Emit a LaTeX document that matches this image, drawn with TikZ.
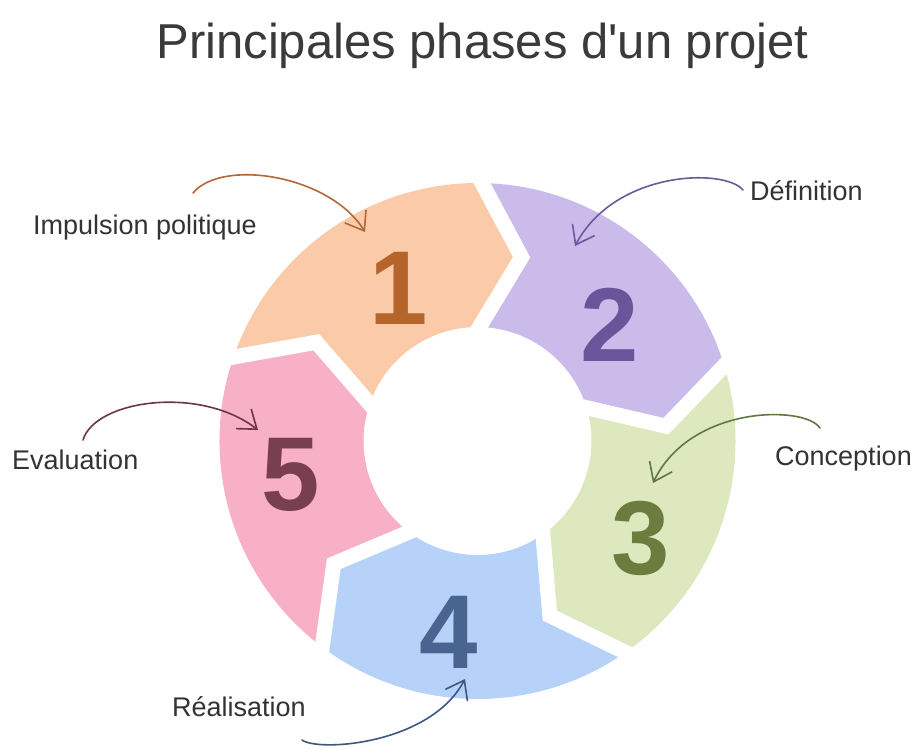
\documentclass[tikz,border=0pt]{standalone}
\usepackage{fontspec}
\setmainfont{Liberation Sans}
\usetikzlibrary{arrows.meta,calc}
\definecolor{fillA}{HTML}{FBCBA9}
\definecolor{fillB}{HTML}{CBBBEA}
\definecolor{fillC}{HTML}{DEE8BE}
\definecolor{fillD}{HTML}{B6D2F8}
\definecolor{fillE}{HTML}{F7B0C6}
\definecolor{numA}{HTML}{B5652B}
\definecolor{numB}{HTML}{6B559A}
\definecolor{numC}{HTML}{6B7D3E}
\definecolor{numD}{HTML}{48658F}
\definecolor{numE}{HTML}{7A3E51}
\definecolor{arrA}{HTML}{B0683A}
\definecolor{arrB}{HTML}{6B5A98}
\definecolor{arrC}{HTML}{5F7840}
\definecolor{arrD}{HTML}{3D5880}
\definecolor{arrE}{HTML}{6B3647}
\definecolor{labgray}{HTML}{333333}
\definecolor{titlegray}{HTML}{3A3A3A}
\tikzset{
  numtxt/.style={font=\fontsize{105}{105}\selectfont\bfseries, inner sep=0pt, anchor=center},
  labtxt/.style={font=\fontsize{27}{30}\selectfont, text=labgray, inner sep=0pt, anchor=base west},
  arr/.style={line width=1.6pt, line cap=round, -{Straight Barb[length=17pt,width=25pt]}},
  gapline/.style={white, line width=15pt, line join=miter, miter limit=10}
}
\begin{document}
\begin{tikzpicture}[x=1pt,y=1pt]
\useasboundingbox (0,0) rectangle (914,-750);
\fill[white] (0,0) rectangle (914,-750);

\node[anchor=base, text=titlegray, font=\fontsize{49}{60}\selectfont, inner sep=0pt] (title) at (482.5,-58) {Principales phases d\textquotesingle un projet};

\begin{scope}[shift={(477.5,-441)}]
\foreach \a/\c in {161/fillA,89/fillB,17/fillC,-55/fillD,-127/fillE} {
  \fill[\c] (\a:258) arc[start angle=\a, end angle=\a-72, radius=258]
     -- (\a-84.5:189) -- (\a-72:114)
     arc[start angle=\a-72, end angle=\a, radius=114]
     -- (\a-12.5:189) -- cycle;
}
\foreach \a in {89,17,-55,-127,-199} {
  \draw[gapline] ($(\a:258)!-14pt!(\a-12.5:189)$) -- (\a-12.5:189) -- ($(\a:114)!-14pt!(\a-12.5:189)$);
}
\end{scope}

\node[numtxt, text=numA] (n1) at (399,-288) {1};
\node[numtxt, text=numB] (n2) at (610,-325) {2};
\node[numtxt, text=numC] (n3) at (641,-538) {3};
\node[numtxt, text=numD] (n4) at (449,-632) {4};
\node[numtxt, text=numE] (n5) at (291,-475) {5};

\node[labtxt] (l1) at (33,-234) {Impulsion politique};
\node[labtxt] (l2) at (750,-200) {Définition};
\node[labtxt] (l3) at (775,-465) {Conception};
\node[labtxt] (l4) at (172,-716) {Réalisation};
\node[labtxt] (l5) at (12,-469) {Evaluation};

\coordinate (s1) at (193,-193); \coordinate (e1) at (365,-232);
\coordinate (s2) at (743,-190); \coordinate (e2) at (575,-246);
\coordinate (s3) at (820,-428); \coordinate (e3) at (653,-483);
\coordinate (s4) at (302,-740); \coordinate (e4) at (465,-679);
\coordinate (s5) at (83,-440);  \coordinate (e5) at (258,-430);

\draw[arr, arrA] (s1) .. controls (222,-158) and (330,-175) .. (e1);
\draw[arr, arrB] (s2) .. controls (725,-168) and (615,-170) .. (e2);
\draw[arr, arrC] (s3) .. controls (805,-405) and (690,-405) .. (e3);
\draw[arr, arrD] (s4) .. controls (318,-752) and (430,-745) .. (e4);
\draw[arr, arrE] (s5) .. controls (95,-400) and (200,-385) .. (e5);
\end{tikzpicture}
\end{document}
